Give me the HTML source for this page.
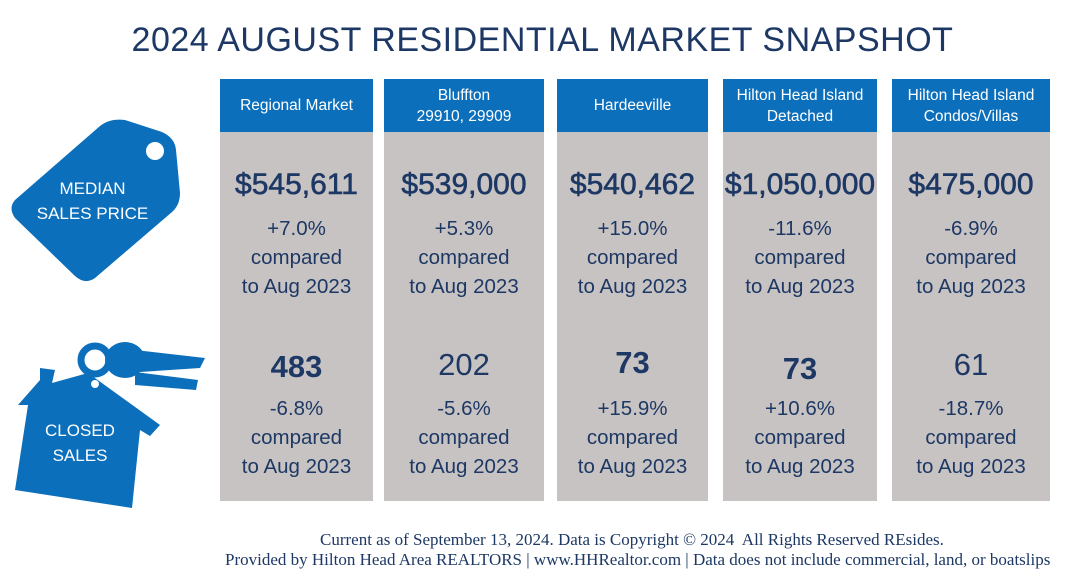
<!DOCTYPE html>
<html><head><meta charset="utf-8"><style>
body{margin:0;width:1073px;height:583px;background:#fff;position:relative;overflow:hidden;font-family:"Liberation Sans",sans-serif;color:#1d3864}
.abs{position:absolute}
.title{left:6px;width:1073px;top:21px;text-align:center;font-size:34px;letter-spacing:0.5px;color:#1d3864}
.col{position:absolute;top:79px;height:422px;background:#c8c3c3}
.hd{position:absolute;left:0;right:0;top:0;height:53px;background:#0b6fbc;color:#fff;font-size:15.5px;display:flex;align-items:center;justify-content:center;text-align:center;line-height:21px}
.big{position:absolute;left:-12px;right:-12px;text-align:center;font-size:30px;font-weight:normal;-webkit-text-stroke:0.6px #1d3864;color:#1d3864}
.cnt{position:absolute;left:0;right:0;text-align:center;font-size:31px;color:#1d3864}
.sm{position:absolute;left:-10px;right:-10px;text-align:center;font-size:20.5px;line-height:29px;color:#1d3864}
.foot{font-family:"Liberation Serif",serif;font-size:17px;color:#1d3864;white-space:nowrap}
.ico{color:#fff;font-size:17px;text-align:center;line-height:25px}
</style></head><body>
<div class="abs title">2024 AUGUST RESIDENTIAL MARKET SNAPSHOT</div>

<svg class="abs" style="left:0;top:0" width="220" height="520">
<g>
<path d="M15 200 L100 126 Q110 118 125 120 L162 132 Q175 138 176 150 L180 193 Q180 205 172 212 L95 278 Q85 285 75 276 L15 218 Q8 208 15 200Z" fill="#0b6fbc"/>
<circle cx="155" cy="151" r="9" fill="#fff"/>
</g>
<g>
<circle cx="95" cy="360" r="14" fill="none" stroke="#0b6fbc" stroke-width="7"/>
<ellipse cx="125" cy="360" rx="20" ry="18" fill="#0b6fbc"/>
<path d="M135 350 L205 358 L200 368 L140 372Z M135 372 L198 380 L196 390 L135 385Z" fill="#0b6fbc"/>
<path d="M40 380 L40 368 L55 370 L52 383 L88 373 L160 425 L150 436 L140 430 L132 508 L15 490 L28 405 L18 405Z" fill="#0b6fbc"/>
<circle cx="95" cy="384" r="4" fill="#fff"/>
</g>
</svg>
<div class="abs ico" style="left:20px;top:176px;width:145px">MEDIAN<br>SALES PRICE</div>
<div class="abs ico" style="left:15px;top:418px;width:130px">CLOSED<br>SALES</div>

<div id="cols"></div>

<div class="abs foot" style="left:320px;top:530px">Current as of September 13, 2024. Data is Copyright © 2024&nbsp; All Rights Reserved REsides.</div>
<div class="abs foot" style="left:225px;top:550px">Provided by Hilton Head Area REALTORS | www.HHRealtor.com | Data does not include commercial, land, or boatslips</div>

<script>
const markets=["Regional Market","Bluffton<br>29910, 29909","Hardeeville","Hilton Head Island<br>Detached","Hilton Head Island<br>Condos/Villas"];
const prices=["$545,611","$539,000","$540,462","$1,050,000","$475,000"];
const priceChg=["+7.0%","+5.3%","+15.0%","-11.6%","-6.9%"];
const sales=["483","202","73","73","61"];
const salesChg=["-6.8%","-5.6%","+15.9%","+10.6%","-18.7%"];
const salesBold=[true,false,true,true,false];
const lefts=[220,384,557,723,892], widths=[153,160,151,154,158];
const salesTop=[270,268,266,272,268];
const root=document.getElementById('cols');
markets.forEach((m,i)=>{
  const c=document.createElement('div');c.className='col';
  
  
  c.style.left=lefts[i]+'px';c.style.width=widths[i]+'px';
  c.innerHTML=`<div class="hd">${m}</div>
<div class="big" style="top:89px">${prices[i]}</div>
<div class="sm" style="top:135px">${priceChg[i]}<br>compared<br>to Aug 2023</div>
<div class="cnt" style="top:${salesTop[i]}px;font-weight:${salesBold[i]?'bold':'normal'}">${sales[i]}</div>
<div class="sm" style="top:315px">${salesChg[i]}<br>compared<br>to Aug 2023</div>`;
  root.appendChild(c);
});
</script>
</body></html>
